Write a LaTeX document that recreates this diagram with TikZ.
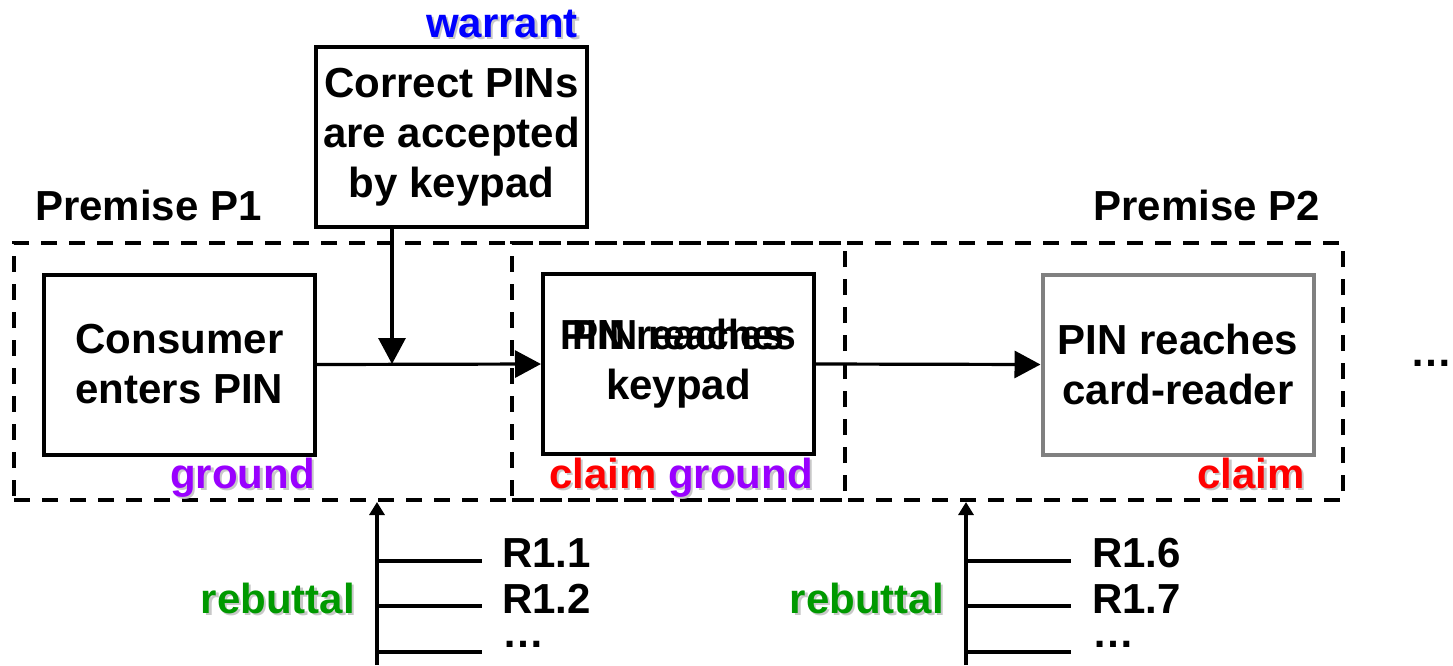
\documentclass[tikz,border=0pt]{standalone}
\usepackage{fontspec}
\setmainfont{Liberation Sans}
\usetikzlibrary{arrows.meta}

\definecolor{warrantblue}{RGB}{0,0,255}
\definecolor{groundpurple}{RGB}{153,0,255}
\definecolor{claimred}{RGB}{255,0,0}
\definecolor{rebuttalgreen}{RGB}{0,153,0}
\definecolor{boxgray}{RGB}{128,128,128}
\definecolor{shadowgray}{RGB}{200,200,200}

% coloured label with a light drop shadow
\newcommand{\withshadow}[2]{\makebox[0pt][l]{\hspace*{2.5pt}\raisebox{-2.5pt}{\textcolor{shadowgray}{#2}}}\textcolor{#1}{#2}}
% the same line printed twice, slightly apart
\newcommand{\doubled}[1]{\makebox[0pt]{\hspace*{-6pt}\scalebox{.93}[1]{#1}\hspace*{6pt}}\makebox[0pt]{\hspace*{6pt}\scalebox{.93}[1]{#1}\hspace*{-6pt}}}

\tikzset{
  every node/.style={font=\fontsize{42}{50}\selectfont\bfseries},
  stmt/.style={draw, line width=4pt, minimum width=271pt, minimum height=180pt, inner sep=0pt, align=center},
  premise/.style={draw, line width=4pt, dash pattern=on 16pt off 12pt, minimum width=831pt, minimum height=257pt, inner sep=0pt},
  lbl/.style={inner sep=0pt},
  arr/.style={line width=3.2pt, -{Triangle[length=26pt,width=27pt]}},
  rebarr/.style={line width=3.2pt, -{Triangle[length=13pt,width=15pt]}},
  branch/.style={line width=3.2pt}
}

\begin{document}
\begin{tikzpicture}[x=1pt,y=-1pt]
  \useasboundingbox (0,0) rectangle (1453,665);

  % premises
  \node[premise] (p1) at (429.5,371.5) {};
  \node[premise] (p2) at (927.5,371.5) {};
  \node[lbl, anchor=base west] (lblp1) at (35,220) {Premise P1};
  \node[lbl, anchor=base east] (lblp2) at (1320,220) {Premise P2};

  % statements
  \node[stmt] (enters) at (179.5,364.5) {Consumer\\enters PIN};
  \node[stmt] (keypad) at (678.5,364) {\doubled{PIN reaches}\\keypad};
  \node[stmt, draw=boxgray] (reader) at (1178,364.5) {PIN reaches\\card-reader};
  \node[stmt] (warrant) at (451.5,137) {Correct PINs\\are accepted\\by keypad};
  \node[lbl, anchor=base west] (more) at (1410,366) {\ldots};

  % roles
  \node[lbl, anchor=base east] (lblw) at (578,37) {\withshadow{warrantblue}{warrant}};
  \node[lbl, anchor=base east] (lblg) at (315,488) {\withshadow{groundpurple}{ground}};
  \node[lbl, anchor=base east] (lblcg) at (813,488) {\withshadow{claimred}{claim} \withshadow{groundpurple}{ground}};
  \node[lbl, anchor=base east] (lblc) at (1305,488) {\withshadow{claimred}{claim}};

  % inference arrows
  \coordinate (join) at (392,364);
  \draw[arr] (enters.east) -- (keypad.west);
  \draw[arr] (warrant.south -| join) -- (join);
  \draw[arr] (keypad.east) -- (reader.west);

  % rebuttals
  \coordinate (reba) at (377,665);
  \coordinate (rebb) at (966,665);
  \draw[rebarr] (reba) -- (reba |- p1.south);
  \draw[rebarr] (rebb) -- (rebb |- p2.south);
  \node[lbl, anchor=base east] (lblra) at (355,613) {\withshadow{rebuttalgreen}{rebuttal}};
  \node[lbl, anchor=base east] (lblrb) at (944,613) {\withshadow{rebuttalgreen}{rebuttal}};
  \foreach \y/\b/\t [count=\i] in {561/567/R1.1, 606/613/R1.2, 652/647/\ldots} {
    \draw[branch] (reba |- 0,\y) -- ++(105,0);
    \node[lbl, anchor=base west] (ra\i) at (502,\b) {\t};
  }
  \foreach \y/\b/\t [count=\i] in {561/567/R1.6, 606/613/R1.7, 652/647/\ldots} {
    \draw[branch] (rebb |- 0,\y) -- ++(105,0);
    \node[lbl, anchor=base west] (rb\i) at (1092,\b) {\t};
  }
\end{tikzpicture}
\end{document}
